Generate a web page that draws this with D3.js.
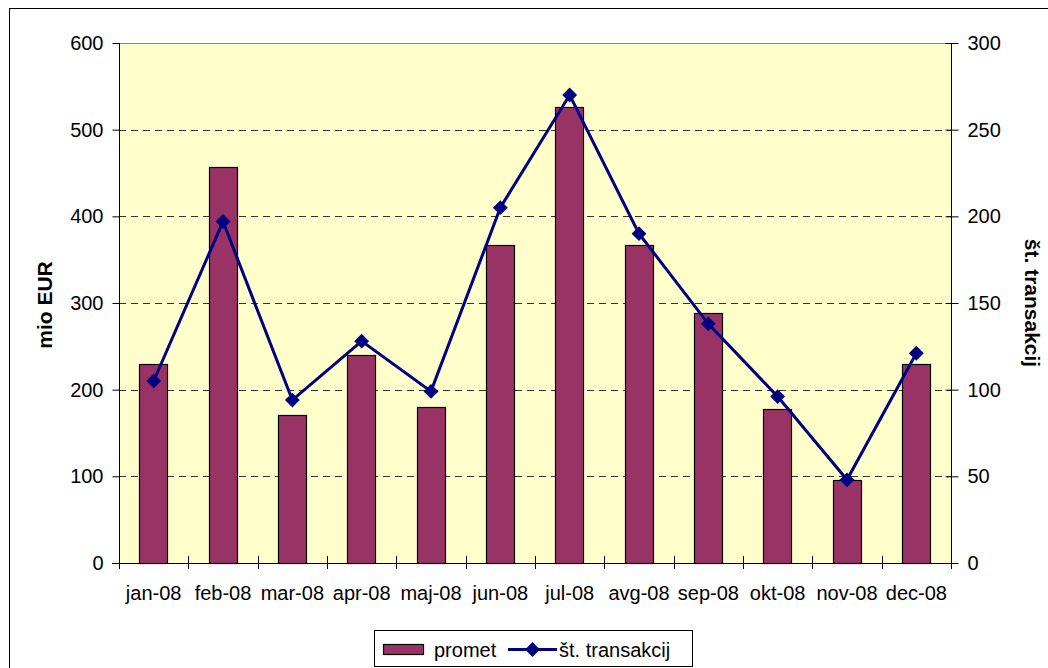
<!DOCTYPE html>
<html>
<head>
<meta charset="utf-8">
<script src="https://cdn.jsdelivr.net/npm/d3@7"></script>
<style>
  body { margin: 0; background: #fff; }
  svg { display: block; font-family: "Liberation Sans", Arial, sans-serif; }
</style>
</head>
<body>
<svg id="chart" width="1048" height="668"></svg>
<script>
// chart data
var months = ["jan-08", "feb-08", "mar-08", "apr-08", "maj-08", "jun-08",
              "jul-08", "avg-08", "sep-08", "okt-08", "nov-08", "dec-08"];
var promet = [230, 457, 171, 240, 180, 367, 526, 367, 288, 178, 96, 230];
var transakcije = [105, 197, 94, 128, 99, 205, 270, 190, 138, 96, 48, 121];
var leftTicks = [0, 100, 200, 300, 400, 500, 600];
var rightTicks = [0, 50, 100, 150, 200, 250, 300];

var svg = d3.select("#chart");

// outer chart border (runs off the right / bottom edge)
svg.append("rect")
  .attr("x", 9.5).attr("y", 8.5)
  .attr("width", 1100).attr("height", 700)
  .attr("fill", "#fff").attr("stroke", "#000").attr("stroke-width", 1);

var plot = { left: 119, top: 43, right: 951, bottom: 563 };

var x = d3.scaleBand()
  .domain(months)
  .range([plot.left, plot.right])
  .paddingInner(0.59).paddingOuter(0.295);

var xOuter = d3.scaleBand().domain(months).range([plot.left, plot.right]);

var yLeft = d3.scaleLinear().domain([0, 600]).range([plot.bottom, plot.top]);
var yRight = d3.scaleLinear().domain([0, 300]).range([plot.bottom, plot.top]);

// plot area background
svg.append("rect")
  .attr("x", plot.left).attr("y", plot.top)
  .attr("width", plot.right - plot.left).attr("height", plot.bottom - plot.top)
  .attr("fill", "#ffffcc");

// gridlines
svg.append("g")
  .selectAll("line")
  .data(leftTicks.filter(function(d) { return d > 0 && d < 600; }))
  .enter().append("line")
  .attr("x1", plot.left).attr("x2", plot.right)
  .attr("y1", function(d) { return Math.round(yLeft(d)) + 0.5; })
  .attr("y2", function(d) { return Math.round(yLeft(d)) + 0.5; })
  .attr("stroke", "#333").attr("stroke-dasharray", "7,5");

svg.append("line")
  .attr("x1", plot.left).attr("x2", plot.right)
  .attr("y1", plot.top + 0.5).attr("y2", plot.top + 0.5)
  .attr("stroke", "#888");

// bars
svg.append("g")
  .selectAll("rect")
  .data(promet)
  .enter().append("rect")
  .attr("x", function(d, i) { return Math.round(x(months[i])) + 0.5; })
  .attr("y", function(d) { return Math.round(yLeft(d)) + 0.5; })
  .attr("width", Math.round(x.bandwidth()))
  .attr("height", function(d) { return Math.round(plot.bottom - yLeft(d)); })
  .attr("fill", "#993366").attr("stroke", "#000").attr("stroke-width", 1.2);

// axes
var leftAxis = d3.axisLeft(yLeft).tickValues(leftTicks).tickSize(7).tickPadding(9);
var gL = svg.append("g")
  .attr("transform", "translate(" + (plot.left + 0.5) + ",0)")
  .call(leftAxis);

var rightAxis = d3.axisRight(yRight).tickValues(rightTicks).tickSize(7).tickPadding(9);
var gR = svg.append("g")
  .attr("transform", "translate(" + (plot.right + 0.5) + ",0)")
  .call(rightAxis);
gR.selectAll(".tick line").attr("x1", -6);

var bottomAxis = d3.axisBottom(xOuter).tickSize(0).tickPadding(22);
var gB = svg.append("g")
  .attr("transform", "translate(0," + (plot.bottom + 0.5) + ")")
  .call(bottomAxis);

// category separator ticks
svg.append("g")
  .selectAll("line")
  .data(months.concat(["end"]))
  .enter().append("line")
  .attr("x1", function(d, i) { return Math.round(plot.left + i * xOuter.step()) + 0.5; })
  .attr("x2", function(d, i) { return Math.round(plot.left + i * xOuter.step()) + 0.5; })
  .attr("y1", plot.bottom - 7).attr("y2", plot.bottom + 6)
  .attr("stroke", "#000");

[gL, gR, gB].forEach(function(g) {
  g.select(".domain").attr("stroke", "#000");
  g.selectAll(".tick line").attr("stroke", "#000");
  g.selectAll("text")
    .attr("fill", "#000")
    .style("font-size", "20px")
    .style("font-family", "'Liberation Sans', Arial, sans-serif");
});
gL.select(".domain").attr("d", "M0," + plot.top + "V" + plot.bottom);
gR.select(".domain").attr("d", "M0," + plot.top + "V" + plot.bottom);
gB.select(".domain").attr("d", "M" + (plot.left - 7) + ",0H" + plot.right);

// line series
var line = d3.line()
  .x(function(d, i) { return xOuter(months[i]) + xOuter.bandwidth() / 2; })
  .y(function(d) { return yRight(d); });

svg.append("path")
  .datum(transakcije)
  .attr("d", line)
  .attr("fill", "none")
  .attr("stroke", "#000080")
  .attr("stroke-width", 3);

var diamond = d3.symbol().type(d3.symbolDiamond2).size(140);
svg.append("g")
  .selectAll("path")
  .data(transakcije)
  .enter().append("path")
  .attr("d", diamond)
  .attr("transform", function(d, i) {
    return "translate(" + (xOuter(months[i]) + xOuter.bandwidth() / 2) + "," + yRight(d) + ")";
  })
  .attr("fill", "#000080");

// axis titles
svg.append("text")
  .attr("transform", "translate(52,305) rotate(-90)")
  .attr("text-anchor", "middle")
  .style("font-size", "21px").style("font-weight", "bold")
  .text("mio EUR");

svg.append("text")
  .attr("transform", "translate(1025,303) rotate(90)")
  .attr("text-anchor", "middle")
  .style("font-size", "21px").style("font-weight", "bold")
  .text("št. transakcij");

// legend
var legend = svg.append("g");
legend.append("rect")
  .attr("x", 374.5).attr("y", 630.5)
  .attr("width", 318).attr("height", 36)
  .attr("fill", "#fff").attr("stroke", "#000");
legend.append("rect")
  .attr("x", 383.5).attr("y", 644.5)
  .attr("width", 40).attr("height", 10)
  .attr("fill", "#993366").attr("stroke", "#000").attr("stroke-width", 1.2);
legend.append("text")
  .attr("x", 434).attr("y", 657)
  .style("font-size", "20px")
  .text("promet");
legend.append("line")
  .attr("x1", 508).attr("x2", 557)
  .attr("y1", 649.5).attr("y2", 649.5)
  .attr("stroke", "#000080").attr("stroke-width", 3);
legend.append("path")
  .attr("d", diamond)
  .attr("transform", "translate(532.5,649.5)")
  .attr("fill", "#000080");
legend.append("text")
  .attr("x", 559).attr("y", 657)
  .style("font-size", "20px")
  .text("št. transakcij");
</script>
</body>
</html>
